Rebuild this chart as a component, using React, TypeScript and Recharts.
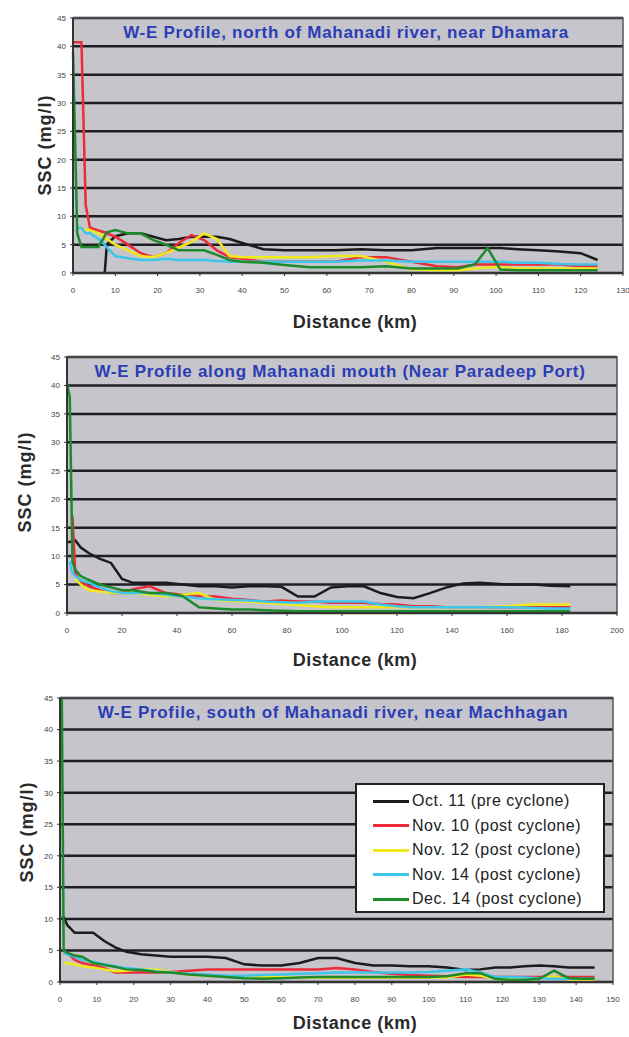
import React from "react";
import { LineChart, Line, XAxis, YAxis, CartesianGrid, ReferenceArea, Legend } from "recharts";

const sscTicks = [0, 5, 10, 15, 20, 25, 30, 35, 40, 45];

const seriesNames = [
  "Oct. 11 (pre cyclone)",
  "Nov. 10 (post cyclone)",
  "Nov. 12 (post cyclone)",
  "Nov. 14 (post cyclone)",
  "Dec. 14 (post cyclone)",
];
const seriesColors = ["#1c1c1c", "#ec2b3b", "#f0ea1c", "#3ec6ea", "#1e8a2c"];

// north of Mahanadi river, near Dhamara
const northTicks = [0, 10, 20, 30, 40, 50, 60, 70, 80, 90, 100, 110, 120, 130];
const northKm = [0, 1, 2, 3, 4, 6, 7.5, 8, 10, 13, 16, 19, 22, 25, 28, 31, 34, 37, 40, 45, 50, 56, 62, 68, 74, 80, 86, 91, 95, 98, 101, 105, 110, 115, 120, 124];
const northOct11 = [null, null, null, null, null, null, 0, 5, 6.5, 7, 7, 6.4, 5.8, 6, 6.4, 6.4, 6.4, 6, 5.3, 4.2, 4, 4, 4, 4.2, 4, 4, 4.4, 4.4, 4.4, 4.4, 4.4, 4.2, 4, 3.8, 3.5, 2.3];
const northNov10 = [40.7, 40.7, 40.7, 12, 8, 7.5, 7.2, 7, 6.4, 5, 3.5, 2.8, 3.5, 5.3, 6.7, 5.8, 4, 2.8, 2.5, 2, 2, 2, 2, 2.8, 2.8, 2, 1.2, 1, 1.5, 1.5, 1.5, 1.5, 1.5, 1.5, 1.2, 1.2];
const northNov12 = [null, null, 8, 7.6, 7.6, 7, 6.4, 6, 5, 4, 3, 2.8, 3.5, 4.5, 5.5, 7, 6, 3, 2.8, 2.8, 2.8, 2.8, 3, 3, 2, 0.6, 0.5, 0.5, 0.8, 1, 1, 0.8, 0.8, 0.8, 0.8, 0.8];
const northNov14 = [null, 8, 8, 7, 7, 6, 5, 4.5, 3, 2.6, 2.3, 2.3, 2.5, 2.3, 2.3, 2.3, 2.1, 2, 2, 2, 2, 2, 2, 2.2, 2.2, 2, 2, 2, 2, 2, 2, 1.8, 1.8, 1.6, 1.5, 1.5];
const northDec14 = [39, 7, 4.6, 4.6, 4.6, 4.6, 6.5, 7.2, 7.6, 7, 7, 5.8, 5, 4, 4, 4, 3.2, 2.3, 2, 1.8, 1.4, 1, 1, 1, 1.2, 0.8, 0.8, 0.8, 1.5, 4.4, 0.6, 0.5, 0.5, 0.5, 0.5, 0.5];

// along Mahanadi mouth, near Paradeep Port
const mouthTicks = [0, 20, 40, 60, 80, 100, 120, 140, 160, 180, 200];
const mouthKm = [0, 1, 2, 3, 5, 8, 12, 16, 20, 24, 30, 36, 42, 48, 54, 60, 66, 72, 78, 84, 90, 96, 102, 108, 114, 120, 126, 132, 138, 144, 150, 160, 170, 176, 183];
const mouthOct11 = [12.5, 12.5, 12.6, 12.8, 11.5, 10.5, 9.5, 8.8, 6, 5.3, 5.3, 5.3, 5, 4.7, 4.7, 4.5, 4.7, 4.7, 4.6, 2.9, 2.9, 4.5, 4.7, 4.7, 3.5, 2.8, 2.6, 3.5, 4.5, 5.2, 5.3, 5, 5, 4.8, 4.7];
const mouthNov10 = [null, null, 17, 7, 5.5, 4.7, 4, 3.5, 3.5, 4.2, 4.7, 3.5, 3.2, 3, 2.9, 2.5, 2.3, 2, 2.2, 2, 2, 1.8, 1.8, 1.8, 1.6, 1.5, 1.2, 1.2, 1, 1, 1, 1, 1, 1, 1];
const mouthNov12 = [null, null, null, 6, 5, 4, 3.8, 3.5, 3.5, 3.5, 3.2, 2.9, 3.2, 3.5, 2.3, 2.1, 2, 1.8, 1.6, 1.4, 1.2, 1, 1, 1, 1, 1, 1, 1, 1, 1, 1, 1.2, 1.5, 1.5, 1.5];
const mouthNov14 = [null, 9, 7, 6.5, 5.8, 5.3, 4.5, 3.8, 3.5, 3.5, 3.5, 3.2, 2.9, 2.6, 2.4, 2.3, 2.2, 2, 1.9, 1.8, 2, 2, 2, 2, 1.5, 1.2, 1, 1, 1, 1, 1, 1, 0.9, 0.8, 0.8];
const mouthDec14 = [40.4, 38, 9, 7.6, 6.5, 5.8, 5, 4.5, 4, 4, 3.5, 3.5, 3, 1, 0.8, 0.6, 0.6, 0.5, 0.4, 0.3, 0.3, 0.3, 0.3, 0.3, 0.3, 0.3, 0.3, 0.3, 0.3, 0.3, 0.3, 0.3, 0.3, 0.3, 0.3];

// south of Mahanadi river, near Machhagan
const southTicks = [0, 10, 20, 30, 40, 50, 60, 70, 80, 90, 100, 110, 120, 130, 140, 150];
const southKm = [0, 0.5, 1, 2, 4, 6, 9, 12, 15, 18, 22, 26, 30, 35, 40, 45, 50, 55, 60, 65, 70, 75, 80, 85, 90, 95, 100, 105, 110, 114, 118, 122, 126, 130, 134, 138, 142, 145];
const southOct11 = [null, 10.3, 10.3, 9, 7.8, 7.8, 7.8, 6.5, 5.5, 4.8, 4.4, 4.2, 4, 4, 4, 3.8, 2.8, 2.6, 2.6, 3, 3.8, 3.8, 3, 2.6, 2.6, 2.5, 2.5, 2.3, 1.9, 2, 2.3, 2.3, 2.5, 2.6, 2.5, 2.3, 2.3, 2.3];
const southNov10 = [null, null, 4.6, 4.6, 3.5, 3, 2.6, 2.2, 1.5, 1.5, 1.5, 1.5, 1.6, 1.8, 2, 2, 2, 2, 2, 2, 2, 2.2, 2, 1.6, 1.3, 1.1, 1, 0.9, 0.8, 0.8, 0.8, 0.8, 0.8, 0.8, 0.8, 0.8, 0.8, 0.8];
const southNov12 = [null, null, 3, 3, 2.8, 2.5, 2.3, 2, 1.7, 1.8, 2, 2, 1.6, 1.2, 1, 0.9, 0.8, 0.8, 0.8, 0.7, 0.7, 0.7, 0.7, 0.7, 0.7, 0.7, 0.7, 0.7, 1.2, 1, 0.5, 0.4, 0.4, 0.5, 0.9, 0.4, 0.4, 0.4];
const southNov14 = [null, null, 4.6, 4.4, 4, 3.5, 3.2, 2.8, 2.5, 2.2, 2, 1.7, 1.5, 1.3, 1.2, 1, 1, 1.1, 1.2, 1.3, 1.4, 1.5, 1.5, 1.5, 1.5, 1.5, 1.6, 1.8, 2, 1.5, 0.8, 0.8, 0.7, 0.6, 0.5, 0.5, 0.5, 0.5];
const southDec14 = [44.7, 44.7, 5, 4.6, 4.2, 4, 3, 2.7, 2.4, 2, 1.9, 1.6, 1.5, 1.2, 1, 0.8, 0.6, 0.5, 0.6, 0.7, 0.8, 0.8, 0.8, 0.8, 0.8, 0.8, 0.8, 0.9, 1.4, 1.4, 0.5, 0.3, 0.3, 0.5, 1.8, 0.6, 0.5, 0.5];

const FONT = "'Liberation Sans', Arial, sans-serif";

type Plot = { left: number; right: number; top: number; bottom: number };

function buildRows(km: number[], series: (number | null)[][]) {
  return km.map((d, i) => {
    const row: Record<string, number | null> = { d };
    series.forEach((s, k) => (row["s" + k] = s[i]));
    return row;
  });
}

function LegendBox(props: any) {
  // keep the series order, not the alphabetical one
  const items = [...(props.payload || [])].sort(
    (a: any, b: any) => seriesNames.indexOf(a.value) - seriesNames.indexOf(b.value)
  );
  return (
    <div style={{ background: "#fff", border: "2px solid #222", width: 250, height: 130, boxSizing: "border-box", padding: "4px 0 0 16px", fontFamily: FONT }}>
      {items.map((p: any) => (
        <div key={p.value} style={{ display: "flex", alignItems: "center", height: 24.5 }}>
          <span style={{ display: "inline-block", width: 36, height: 3, background: p.color, marginRight: 3 }} />
          <span style={{ fontSize: 16, letterSpacing: 0.5, color: "#222", whiteSpace: "nowrap" }}>{p.value}</span>
        </div>
      ))}
    </div>
  );
}

function Profile({
  top, height, plot, title, titleX, km, series, xTicks, yLabelX, yLabelY, xLabelY, showLegend,
}: {
  top: number; height: number; plot: Plot; title: string; titleX: number;
  km: number[]; series: (number | null)[][]; xTicks: number[];
  yLabelX: number; yLabelY: number; xLabelY: number; showLegend?: boolean;
}) {
  const rows = buildRows(km, series);
  const yAxisW = 24;
  const xAxisH = 20;
  const xMax = xTicks[xTicks.length - 1];
  return (
    <div style={{ position: "absolute", left: 0, top, width: 629, height }}>
      <LineChart
        width={629}
        height={height}
        data={rows}
        margin={{ top: plot.top, right: 629 - plot.right, bottom: height - plot.bottom - xAxisH, left: plot.left - yAxisW }}
      >
        <CartesianGrid vertical={false} stroke="#1e1e24" strokeWidth={2.5} fill="#c5c5cb" />
        <ReferenceArea x1={0} x2={xMax} y1={0} y2={45} fill="none" stroke="#555" strokeWidth={1.5} ifOverflow="extendDomain" />
        <XAxis
          type="number" dataKey="d" domain={[0, xMax]} ticks={xTicks} height={xAxisH}
          tick={{ fontSize: 8, fill: "#444", fontFamily: FONT }} tickSize={3} tickMargin={11}
          axisLine={{ stroke: "#333", strokeWidth: 2 }} tickLine={{ stroke: "#333" }}
        />
        <YAxis
          type="number" domain={[0, 45]} ticks={sscTicks} width={yAxisW}
          tick={{ fontSize: 8, fill: "#444", fontFamily: FONT }} tickSize={3} tickMargin={4}
          axisLine={{ stroke: "#333", strokeWidth: 2 }} tickLine={{ stroke: "#333" }}
        />
        {series.map((_, k) => (
          <Line
            key={k} type="linear" dataKey={"s" + k} name={seriesNames[k]} stroke={seriesColors[k]}
            strokeWidth={2.5} dot={false} connectNulls isAnimationActive={false}
          />
        ))}
        {showLegend && (
          <Legend
            layout="vertical" align="center" verticalAlign="middle"
            content={<LegendBox />}
            wrapperStyle={{ left: 355, top: 103, width: 250, height: 130 }}
          />
        )}
      </LineChart>
      <div style={{ position: "absolute", left: titleX, top: plot.top + 15, transform: "translate(-50%, -50%)", whiteSpace: "nowrap", color: "#2b3db5", fontFamily: FONT, fontWeight: "bold", fontSize: 17, letterSpacing: 0.7 }}>
        {title}
      </div>
      <div style={{ position: "absolute", left: yLabelX, top: yLabelY, transform: "translate(-50%, -50%) rotate(-90deg)", whiteSpace: "nowrap", color: "#2a2a2a", fontFamily: FONT, fontWeight: "bold", fontSize: 18, letterSpacing: 1 }}>
        SSC (mg/l)
      </div>
      <div style={{ position: "absolute", left: 355, top: xLabelY, transform: "translate(-50%, -50%)", whiteSpace: "nowrap", color: "#2a2a2a", fontFamily: FONT, fontWeight: "bold", fontSize: 18, letterSpacing: 0.5 }}>
        Distance (km)
      </div>
    </div>
  );
}

export default function App() {
  return (
    <div style={{ position: "absolute", left: 0, top: 0, width: 629, height: 1037, background: "#fff" }}>
      <Profile
        top={0} height={340} plot={{ left: 73, right: 623, top: 18, bottom: 273 }}
        title="W-E Profile, north of Mahanadi river, near Dhamara" titleX={346}
        km={northKm} series={[northOct11, northNov10, northNov12, northNov14, northDec14]} xTicks={northTicks}
        yLabelX={45} yLabelY={145} xLabelY={322}
      />
      <Profile
        top={340} height={340} plot={{ left: 67, right: 617, top: 17, bottom: 273 }}
        title="W-E Profile along Mahanadi mouth (Near Paradeep Port)" titleX={340}
        km={mouthKm} series={[mouthOct11, mouthNov10, mouthNov12, mouthNov14, mouthDec14]} xTicks={mouthTicks}
        yLabelX={25} yLabelY={142} xLabelY={320}
      />
      <Profile
        top={680} height={357} plot={{ left: 60, right: 613, top: 18, bottom: 302 }}
        title="W-E Profile, south of Mahanadi river, near Machhagan" titleX={333}
        km={southKm} series={[southOct11, southNov10, southNov12, southNov14, southDec14]} xTicks={southTicks}
        yLabelX={27} yLabelY={152} xLabelY={343} showLegend
      />
    </div>
  );
}
